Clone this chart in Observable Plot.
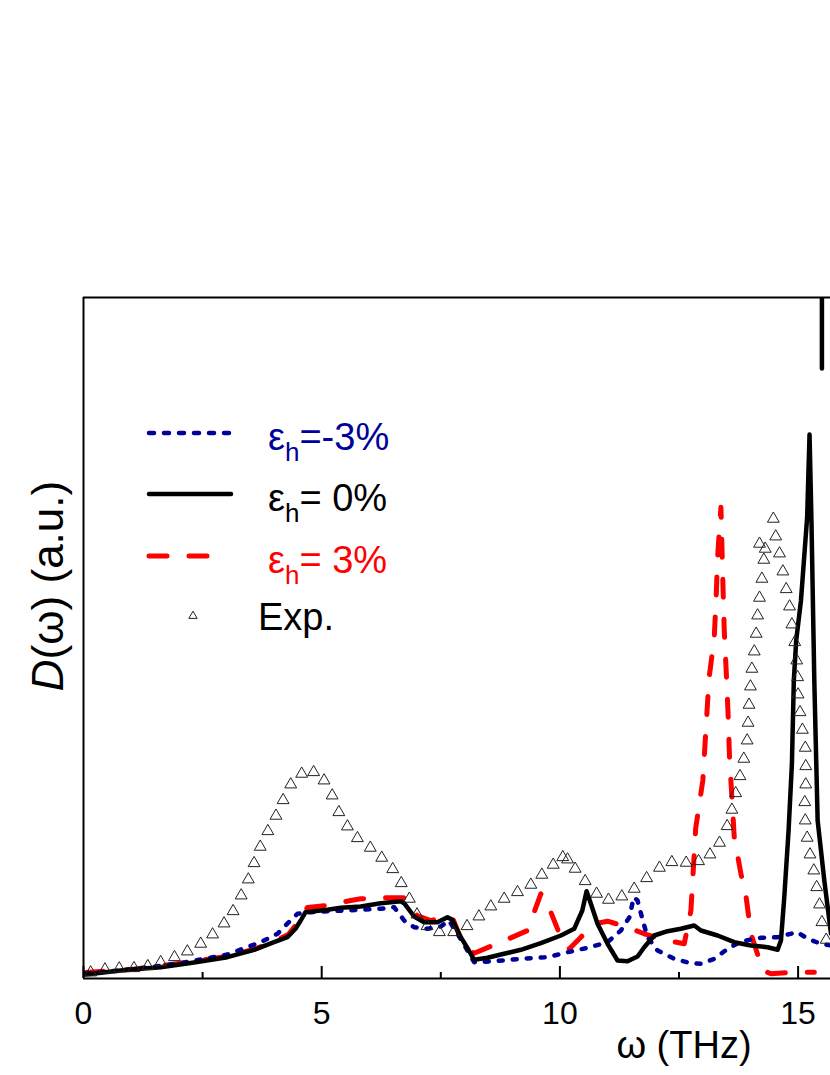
<!DOCTYPE html>
<html><head><meta charset="utf-8">
<script src="https://cdn.jsdelivr.net/npm/d3@7"></script>
<script src="https://cdn.jsdelivr.net/npm/@observablehq/plot@0.6"></script>
<style>
body{margin:0;background:#fff;}
#wrap{position:relative;width:830px;height:1075px;overflow:hidden;}
</style></head><body><div id="wrap"></div>
<script>
// ---- data (ω in THz, D(ω) in arbitrary units) ----
const xTicksMajor = [0, 5, 10, 15];
const xTicksMinor = [2.5, 7.5, 12.5];
const seriesLabels = ["=-3%", "= 0%", "= 3%", "Exp."];

const omegaM3 = [0.04,1,2,3.02,3.72,4.07,4.31,4.49,4.77,5.47,5.82,6.24,6.52,6.73,6.94,7.22,7.5,7.67,7.85,8.06,8.2,8.62,9.18,9.74,10.16,10.58,11.0,11.28,11.46,11.55,11.63,11.74,11.84,12.05,12.4,12.75,12.96,13.24,13.52,13.8,14.22,14.57,14.78,14.99,15.2,15.48,15.69];
const dM3 = [0.05,0.09,0.15,0.24,0.363,0.447,0.563,0.647,0.663,0.68,0.687,0.697,0.713,0.58,0.513,0.497,0.52,0.58,0.447,0.28,0.163,0.173,0.197,0.213,0.263,0.307,0.363,0.48,0.613,0.813,0.78,0.58,0.413,0.28,0.197,0.153,0.147,0.197,0.297,0.37,0.407,0.413,0.44,0.463,0.397,0.347,0.33];

const omega0 = [0.04,0.92,1.62,2.32,3.02,3.58,4.0,4.28,4.45,4.56,4.66,4.84,5.12,5.4,5.82,6.24,6.66,6.73,6.94,7.15,7.43,7.64,7.74,7.92,8.09,8.2,8.48,8.76,9.18,9.6,10.02,10.3,10.47,10.56,10.65,10.79,11.0,11.21,11.42,11.63,11.77,11.98,12.26,12.54,12.82,12.96,13.31,13.66,14.01,14.36,14.57,14.64,14.71,14.8,14.87,14.91,14.96,15.06,15.19,15.24,15.28,15.34,15.41,15.55,15.69];
const d0 = [0.04,0.087,0.113,0.16,0.213,0.287,0.363,0.413,0.497,0.58,0.663,0.673,0.687,0.707,0.72,0.753,0.773,0.753,0.62,0.563,0.563,0.613,0.587,0.413,0.28,0.187,0.207,0.24,0.287,0.353,0.43,0.497,0.68,0.873,0.747,0.547,0.347,0.18,0.173,0.22,0.313,0.43,0.473,0.497,0.53,0.48,0.43,0.363,0.33,0.313,0.287,0.38,0.813,1.48,2.147,2.98,3.38,3.78,4.613,5.44,4.58,2.98,1.58,0.98,0.45];

const omegaP3 = [0.04,1,2,3,3.6,4.0,4.3,4.5,4.7,5.12,5.61,5.82,6.24,6.73,7.0,7.29,7.57,7.74,7.85,7.99,8.2,8.76,9.32,9.6,9.74,10.02,10.2,10.44,10.72,11.0,11.42,11.77,12.26,12.61,12.75,12.85,13.0,13.13,13.24,13.28,13.31,13.38,13.42,13.45,13.5,13.53,13.56,13.61,13.66,13.8,13.9,14.01,14.26,14.43,14.92,15.34];
const dP3 = [0.06,0.09,0.15,0.22,0.295,0.37,0.44,0.56,0.71,0.73,0.78,0.797,0.807,0.807,0.63,0.58,0.613,0.613,0.48,0.313,0.253,0.363,0.48,0.847,0.747,0.413,0.297,0.413,0.547,0.573,0.513,0.447,0.38,0.347,0.68,1.5,1.98,3.0,3.413,3.813,4.213,4.713,3.98,3.48,2.98,2.647,2.213,1.813,1.413,1.047,0.847,0.447,0.08,0.047,0.063,0.063];

const omegaExp = [0.15,0.45,0.75,1.06,1.35,1.62,1.91,2.18,2.46,2.71,2.95,3.14,3.31,3.46,3.58,3.71,3.87,4.04,4.19,4.35,4.58,4.83,5.05,5.22,5.36,5.54,5.75,6.02,6.26,6.49,6.67,6.84,7.0,7.21,7.47,7.77,8.05,8.3,8.55,8.83,9.11,9.39,9.62,9.86,10.06,10.16,10.32,10.53,10.77,11.02,11.3,11.56,11.82,12.09,12.35,12.65,12.91,13.15,13.35,13.51,13.61,13.69,13.78,13.86,13.93,13.95,13.97,14.0,14.03,14.08,14.12,14.15,14.19,14.24,14.28,14.31,14.19,14.48,14.53,14.61,14.68,14.75,14.82,14.87,14.93,14.97,14.99,15.0,15.04,15.09,15.15,15.16,15.16,15.14,15.15,15.19,15.25,15.33,15.39,15.45,15.5,15.59];
const dExp = [0.06,0.09,0.1,0.103,0.123,0.163,0.213,0.27,0.347,0.44,0.55,0.673,0.83,0.99,1.153,1.317,1.473,1.627,1.783,1.94,2.047,2.063,1.98,1.83,1.663,1.52,1.403,1.307,1.207,1.093,0.953,0.797,0.64,0.523,0.463,0.463,0.523,0.62,0.72,0.797,0.863,0.937,1.037,1.137,1.213,1.19,1.097,0.973,0.847,0.787,0.82,0.897,1.003,1.107,1.163,1.157,1.173,1.24,1.357,1.523,1.687,1.853,2.023,2.197,2.38,2.557,2.737,2.92,3.097,3.27,3.447,3.63,3.807,3.997,4.187,4.297,4.347,4.597,4.42,4.25,4.07,3.893,3.72,3.54,3.363,3.18,3.013,2.84,2.663,2.487,2.307,2.123,1.94,1.763,1.58,1.407,1.24,1.08,0.913,0.74,0.563,0.387];

// short black segment entering from the top edge
const spikeOmega = [15.5, 15.5];
const spikeD = [6.81, 6.1];

const xDomain = [0, 15.68];
const yDomain = [0, 6.81];

// ---- build tables ----
const zip = (xs, ys) => xs.map((x, i) => ({w: x, d: ys[i]}));
const sM3 = zip(omegaM3, dM3), s0 = zip(omega0, d0), sP3 = zip(omegaP3, dP3), sExp = zip(omegaExp, dExp), sSpike = zip(spikeOmega, spikeD);

const BLUE = "#00009a", RED = "#ff0000", FONT = "'Liberation Sans', Arial, sans-serif";

const chart = Plot.plot({
  width: 830, height: 1075,
  marginTop: 297, marginBottom: 97, marginLeft: 83, marginRight: 0,
  style: {fontFamily: FONT, background: "#fff", color: "#000"},
  x: {domain: xDomain},
  y: {domain: yDomain, axis: null},
  marks: [
    Plot.line(sP3, {x: "w", y: "d", stroke: RED, strokeWidth: 5, strokeDasharray: "18,22", strokeLinecap: "round", clip: true}),
    Plot.line(sM3, {x: "w", y: "d", stroke: BLUE, strokeWidth: 4.5, strokeDasharray: "4,10", strokeLinecap: "round", clip: true}),
    Plot.line(s0, {x: "w", y: "d", stroke: "#000", strokeWidth: 4.5, strokeLinejoin: "round", clip: true}),
    Plot.line(sSpike, {x: "w", y: "d", stroke: "#000", strokeWidth: 4.5, strokeLinecap: "round", clip: true}),
    Plot.dot(sExp, {x: "w", y: "d", symbol: "triangle", r: 4.4, stroke: "#222", strokeWidth: 1, fill: "none", clip: true}),
    Plot.tickX(xTicksMajor, {x: d => d, stroke: "#000", strokeWidth: 2, insetTop: 669}),
    Plot.tickX(xTicksMinor, {x: d => d, stroke: "#000", strokeWidth: 2, insetTop: 675}),
    Plot.axisX({ticks: xTicksMajor, tickSize: 0, tickPadding: 23, fontSize: 32, label: null}),
    Plot.ruleX([xDomain[0]], {stroke: "#000", strokeWidth: 2}),
    Plot.ruleY([yDomain[0]], {stroke: "#000", strokeWidth: 2}),
    Plot.ruleY([yDomain[1]], {stroke: "#000", strokeWidth: 2})
  ]
});
document.getElementById("wrap").appendChild(chart);

// ---- axis titles and legend ----
const svg = d3.select(chart);
const g = svg.append("g").attr("font-family", FONT).attr("fill", "#000");

g.append("text").attr("x", 684).attr("y", 1058).attr("text-anchor", "middle")
  .attr("font-size", 38).text("ω (THz)");

const yl = g.append("text").attr("transform", "translate(63,586) rotate(-90)")
  .attr("text-anchor", "middle").attr("font-size", 44);
yl.append("tspan").attr("font-style", "italic").text("D");
yl.append("tspan").text("(ω) (a.u.)");

const rows = [
  {y: 433, base: 450, x2: 231, color: BLUE, dash: "5,10", w: 4.5, label: seriesLabels[0]},
  {y: 494, base: 511, x2: 231, color: "#000", dash: null, w: 4.5, label: seriesLabels[1]},
  {y: 556, base: 573, x2: 211, color: RED, dash: "18,22", w: 5, label: seriesLabels[2]}
];
rows.forEach(r => {
  const ln = g.append("line").attr("x1", 149).attr("x2", r.x2).attr("y1", r.y).attr("y2", r.y)
    .attr("stroke", r.color).attr("stroke-width", r.w).attr("stroke-linecap", "round");
  if (r.dash) ln.attr("stroke-dasharray", r.dash);
  const t = g.append("text").attr("x", 268).attr("y", r.base).attr("font-size", 38)
    .attr("text-anchor", "start").attr("fill", r.color);
  t.append("tspan").text("ε");
  t.append("tspan").attr("font-size", 26).attr("dy", 11).text("h");
  t.append("tspan").attr("dy", -11).text(r.label);
});
g.append("path").attr("d", d3.symbol(d3.symbolTriangle, 30)()).attr("transform", "translate(193,616)")
  .attr("fill", "none").attr("stroke", "#222").attr("stroke-width", 1);
g.append("text").attr("x", 258).attr("y", 630).attr("font-size", 38)
  .attr("text-anchor", "start").text(seriesLabels[3]);
</script>
</body></html>
